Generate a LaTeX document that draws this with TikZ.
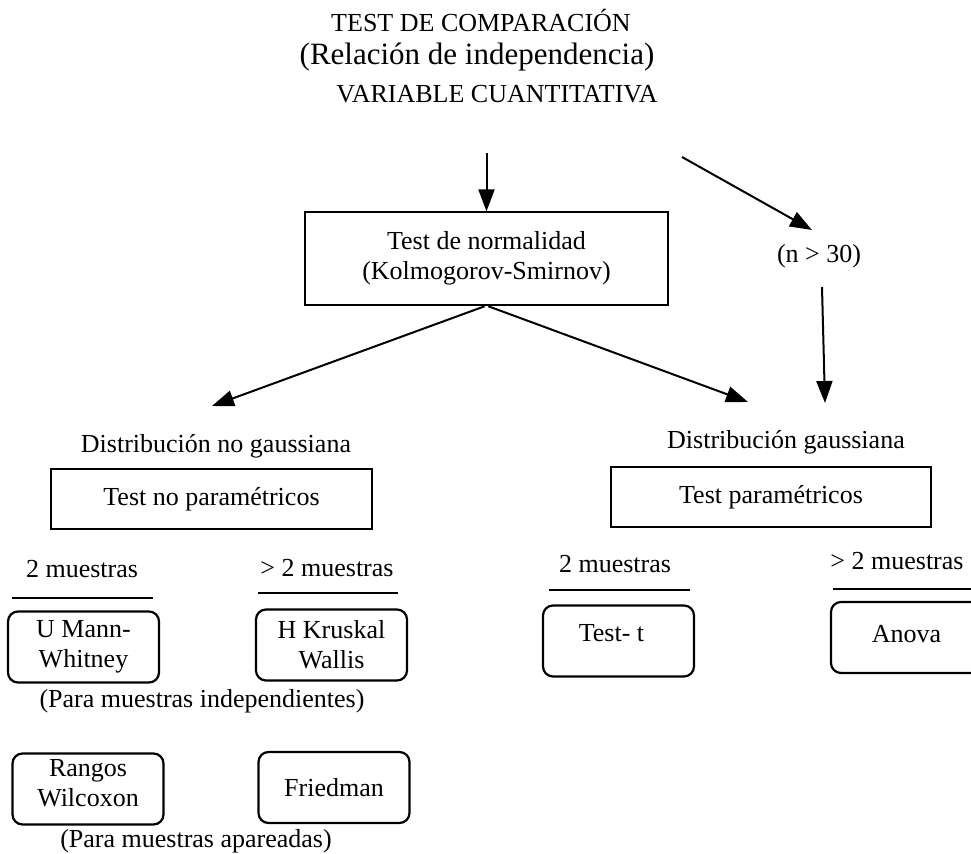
\documentclass[tikz,border=0pt]{standalone}
\usepackage{fontspec}
\setmainfont{Liberation Serif}
\usetikzlibrary{arrows.meta}
\tikzset{
    caja/.style={draw, line width=0.6pt, inner sep=0pt, align=center},
    cajaredonda/.style={draw, line width=1.1pt, rounded corners=5pt, inner sep=0pt, align=center,
        minimum width=75.5pt, minimum height=35.5pt},
    flecha/.style={line width=1pt, -{Triangle[length=11pt,width=8pt]}},
    raya/.style={line width=1.1pt}
}
\begin{document}
\begin{tikzpicture}[x=0.5pt, y=-0.5pt, font=\fontsize{13}{15}\selectfont]
    \clip (0,0) rectangle (971,854);
    % titulos
    \node[anchor=base] (titulo) at (481,32) {TEST DE COMPARACIÓN};
    \node[anchor=base, font=\fontsize{15.5}{18}\selectfont] (subtitulo) at (477,65) {(Relación de independencia)};
    \node[anchor=base] (var) at (497,103) {VARIABLE CUANTITATIVA};
    % test de normalidad
    \node[caja, minimum width=181.5pt, minimum height=46.5pt] (norm) at (486.5,258.5)
        {Test de normalidad\\(Kolmogorov-Smirnov)};
    \node[anchor=base] (n30) at (819,263) {(n > 30)};
    \coordinate (v1) at (486.5,153);
    \coordinate (v2) at (682,157);
    \coordinate (v3) at (812,230);
    \coordinate (v4) at (822,287);
    \coordinate (v5) at (825,403);
    \coordinate (izq) at (212,406);
    \coordinate (der) at (748,402);
    \draw[flecha] (v1) -- (norm.north);
    \draw[flecha] (v2) -- (v3);
    \draw[flecha] (v4) -- (v5);
    \draw[flecha, shorten <=1pt] (norm.south) -- (izq);
    \draw[flecha, shorten <=1pt] (norm.south) -- (der);
    % ramas
    \node[anchor=base] (nogauss) at (216,453) {Distribución no gaussiana};
    \node[anchor=base] (gauss) at (786,449) {Distribución gaussiana};
    \node[caja, minimum width=160.5pt, minimum height=30pt] (noparam) at (211.5,499) {Test no paramétricos};
    \node[caja, minimum width=160pt, minimum height=30pt] (param) at (771,497) {Test paramétricos};
    % no parametricos
    \node[anchor=base] (dosA) at (82,578) {2 muestras};
    \node[anchor=base] (masA) at (327,577) {> 2 muestras};
    \draw[raya] (12,598) -- (153,598);
    \draw[raya] (258,593) -- (398,593);
    \node[cajaredonda] (mann) at (83.5,647) {U Mann-\\Whitney};
    \node[cajaredonda] (kruskal) at (331.5,645) {H Kruskal\\Wallis};
    \node[anchor=base] (indep) at (202,708) {(Para muestras independientes)};
    \node[cajaredonda] (wilcoxon) at (88,789) {};
    \node[align=center, inner sep=0pt] (wilcoxontxt) at ([yshift=3pt]wilcoxon.center) {Rangos\\Wilcoxon};
    \node[cajaredonda] (friedman) at (334,787.5) {Friedman};
    \node[anchor=base] (apar) at (196,848) {(Para muestras apareadas)};
    % parametricos
    \node[anchor=base] (dosB) at (615,573) {2 muestras};
    \node[anchor=base] (masB) at (897,570) {> 2 muestras};
    \draw[raya] (549,590) -- (690,590);
    \draw[raya] (833,589) -- (975,589);
    \node[cajaredonda, text depth=8pt] (testt) at (618.5,641) {Test- t\hspace{7pt}};
    \node[cajaredonda, text depth=4pt] (anova) at (906.5,637.5) {Anova};
\end{tikzpicture}
\end{document}
